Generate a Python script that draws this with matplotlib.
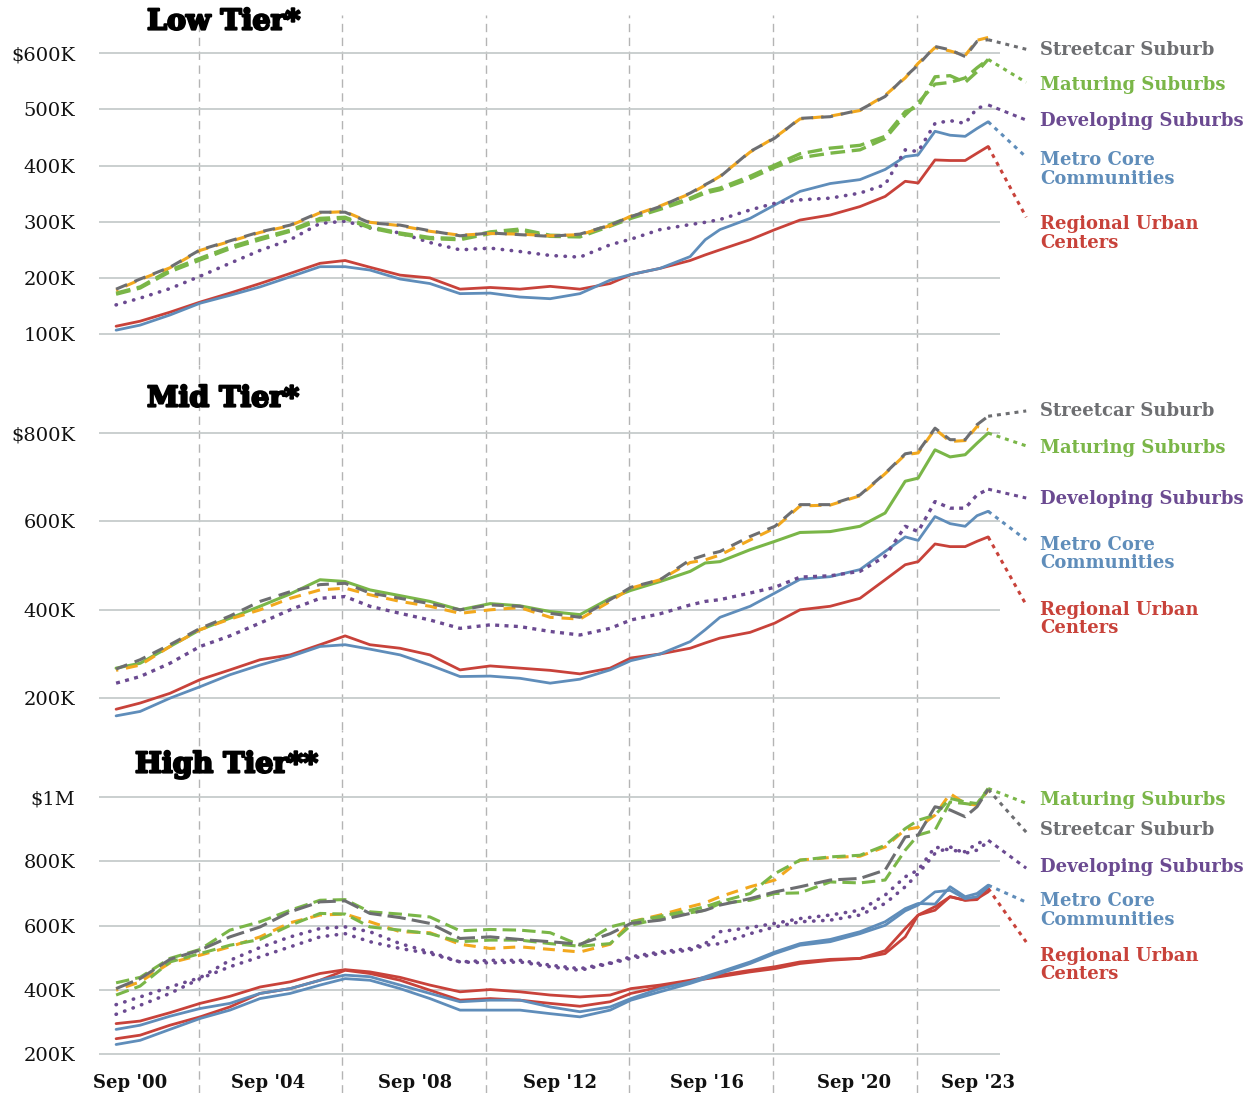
import matplotlib.pyplot as plt
import matplotlib.patheffects as pe

# sample dates (decimal years), shared by every series
DATES = [2000.70, 2001.37, 2002.20, 2003.04, 2003.87, 2004.71, 2005.55, 2006.38,
         2007.08, 2007.77, 2008.61, 2009.44, 2010.28, 2011.12, 2011.95, 2012.79,
         2013.62, 2014.46, 2015.04, 2015.85, 2016.69, 2017.11, 2017.52, 2018.36,
         2019.05, 2019.75, 2020.59, 2021.42, 2022.12, 2022.68, 2023.04, 2023.51,
         2023.93, 2024.35, 2024.68, 2024.99]

# ---- Low tier (thousands of $)
LOW_STREETCAR = [180, 198, 219, 250, 266, 282, 294, 317, 317, 298, 294, 284, 275, 280, 277, 274, 278, 294,
                 309, 327, 351, 366, 380, 425, 449, 484, 487, 499, 523, 558, 579, 612, 606, 594, 621, 624]
LOW_STREETCAR_ALT = [178, 197, 218, 249, 265, 281, 293, 316, 318, 299, 293, 283, 276, 279, 278, 275, 277, 293,
                     310, 328, 350, 365, 381, 424, 450, 483, 488, 498, 525, 556, 582, 610, 604, 596, 623, 628]
LOW_MATURING_A = [173, 184, 214, 235, 255, 271, 285, 306, 308, 291, 280, 272, 270, 282, 287, 276, 275, 295,
                  309, 324, 342, 354, 360, 381, 401, 421, 431, 436, 452, 496, 505, 558, 560, 548, 567, 589]
LOW_MATURING_B = [171, 182, 211, 232, 252, 268, 283, 303, 306, 289, 278, 270, 268, 279, 284, 274, 273, 292,
                  306, 322, 340, 351, 357, 377, 397, 414, 422, 428, 448, 490, 512, 545, 548, 556, 574, 589]
LOW_DEVELOPING = [152, 164, 181, 203, 226, 249, 268, 297, 301, 289, 280, 263, 250, 253, 247, 240, 237, 259,
                  269, 286, 295, 299, 304, 321, 333, 339, 342, 351, 366, 428, 425, 475, 480, 475, 502, 508]
LOW_METRO = [107, 116, 134, 155, 169, 184, 202, 220, 220, 214, 198, 190, 172, 173, 166, 163, 172, 196,
             206, 217, 238, 268, 286, 306, 330, 354, 368, 375, 393, 416, 419, 461, 454, 452, 466, 478]
LOW_REGIONAL = [114, 123, 139, 157, 173, 190, 208, 226, 231, 219, 205, 200, 180, 183, 180, 185, 180, 190,
                206, 217, 231, 241, 250, 268, 286, 303, 312, 327, 345, 372, 369, 410, 409, 409, 422, 434]

# ---- Mid tier
MID_STREETCAR = [266, 287, 321, 358, 386, 419, 441, 457, 460, 438, 426, 414, 400, 411, 408, 392, 383, 423,
                 451, 468, 513, 524, 532, 566, 589, 638, 638, 660, 709, 753, 758, 811, 785, 785, 819, 838]
MID_STREETCAR_ALT = [263, 275, 317, 355, 379, 400, 426, 445, 449, 434, 419, 408, 392, 400, 405, 383, 379, 419,
                     449, 468, 507, 513, 524, 558, 585, 635, 637, 658, 708, 751, 755, 809, 781, 783, 815, 808]
MID_MATURING = [268, 279, 317, 355, 381, 408, 436, 468, 464, 445, 432, 419, 400, 414, 409, 396, 389, 426,
                444, 464, 487, 506, 509, 536, 555, 575, 577, 589, 619, 691, 698, 762, 746, 751, 777, 800]
MID_DEVELOPING = [234, 249, 279, 317, 341, 370, 400, 426, 430, 408, 392, 377, 358, 366, 362, 351, 343, 358,
                  377, 391, 411, 419, 423, 438, 451, 474, 477, 487, 521, 589, 577, 645, 630, 630, 660, 673]
MID_METRO = [160, 170, 200, 226, 253, 275, 294, 317, 321, 311, 298, 275, 249, 250, 245, 234, 243, 264,
             285, 300, 328, 355, 383, 408, 438, 469, 475, 491, 532, 565, 557, 611, 595, 589, 613, 623]
MID_REGIONAL = [175, 189, 211, 242, 264, 287, 298, 321, 341, 321, 313, 298, 264, 273, 268, 263, 255, 268,
                291, 300, 313, 325, 336, 349, 370, 400, 408, 426, 468, 502, 509, 549, 543, 543, 555, 565]

# ---- High tier
HIGH_STREETCAR = [404, 435, 495, 524, 565, 596, 643, 674, 677, 638, 625, 607, 560, 565, 557, 550, 542, 575,
                  607, 617, 638, 648, 664, 684, 705, 721, 742, 747, 773, 876, 882, 970, 960, 939, 970, 1024]
HIGH_STREETCAR_ALT = [399, 425, 484, 508, 534, 565, 609, 633, 636, 612, 581, 578, 542, 529, 534, 526, 518, 542,
                      612, 633, 659, 671, 690, 721, 742, 804, 812, 816, 845, 899, 906, 944, 1011, 980, 975, 1022]
HIGH_MATURING_A = [422, 439, 498, 526, 586, 612, 648, 679, 681, 643, 636, 627, 584, 588, 586, 578, 539, 596,
                   612, 629, 648, 659, 674, 700, 762, 804, 814, 819, 850, 902, 928, 944, 996, 985, 980, 1027]
HIGH_MATURING_B = [384, 412, 487, 513, 539, 557, 601, 638, 636, 596, 586, 575, 550, 555, 555, 544, 536, 544,
                   601, 622, 640, 648, 669, 679, 700, 702, 736, 733, 742, 835, 882, 897, 985, 980, 975, 1027]
HIGH_DEVELOPING_A = [354, 378, 409, 438, 492, 532, 565, 591, 596, 581, 544, 518, 487, 492, 492, 477, 466, 484,
                     503, 518, 529, 544, 581, 594, 607, 622, 633, 648, 695, 752, 773, 845, 835, 830, 856, 866]
HIGH_DEVELOPING_B = [324, 352, 389, 435, 472, 503, 534, 565, 575, 550, 529, 513, 487, 484, 487, 472, 461, 482,
                     498, 513, 524, 539, 544, 575, 596, 612, 617, 633, 669, 721, 762, 825, 845, 825, 835, 861]
HIGH_METRO_A = [277, 290, 318, 342, 358, 389, 404, 430, 446, 441, 415, 389, 363, 368, 368, 347, 332, 347,
                373, 404, 425, 441, 456, 487, 518, 544, 557, 581, 612, 653, 669, 667, 721, 690, 700, 726]
HIGH_METRO_B = [230, 243, 277, 311, 337, 373, 389, 415, 435, 430, 404, 373, 337, 337, 337, 326, 316, 337,
                368, 394, 420, 435, 451, 482, 513, 539, 550, 575, 601, 646, 664, 705, 710, 684, 690, 721]
HIGH_REGIONAL_A = [295, 303, 329, 358, 380, 409, 425, 451, 463, 456, 439, 415, 394, 401, 394, 384, 378, 384,
                   404, 415, 430, 439, 446, 461, 472, 487, 495, 498, 522, 591, 633, 659, 690, 679, 681, 716]
HIGH_REGIONAL_B = [248, 259, 290, 316, 347, 389, 404, 430, 461, 451, 430, 399, 368, 373, 368, 358, 349, 363,
                   389, 409, 428, 434, 441, 456, 466, 482, 492, 498, 513, 565, 633, 648, 690, 679, 684, 705]

XTICK_LABELS = ["Sep '00", "Sep '04", "Sep '08", "Sep '12", "Sep '16", "Sep '20", "Sep '23"]
XTICK_POS = [2001.09, 2004.93, 2009.03, 2013.07, 2017.16, 2021.26, 2024.71]
VLINES = [2003, 2007, 2011, 2015, 2019, 2023]

GREY = "#6d6e71"
ORANGE = "#f2a81d"
GREEN = "#7ab648"
PURPLE = "#6b4a91"
BLUE = "#5f8dba"
RED = "#c8423a"

SERIF = "DejaVu Serif"
W, H = 1258, 1093
X0, X1 = 2000.224, 2025.32
X_CONN, X_LABEL = 2026.05, 2026.44

DASH = (0, (3.9, 2.6))
DASH_ALT = (3.2, (3.9, 2.6))
GDASH = (0, (4.4, 2.0))
DOT = (0, (0.1, 2.4))
CONN = (0, (1.3, 1.6))

fig = plt.figure(figsize=(W / 100, H / 100), dpi=100)


def panel(top, bottom, ylim, yticks, yticklabels, title, title_x, title_y):
    ax = fig.add_axes([99 / W, 1 - bottom / H, 901 / W, (bottom - top) / H])
    ax.set_xlim(X0, X1)
    ax.set_ylim(*ylim)
    for s in ax.spines.values():
        s.set_visible(False)
    ax.set_xticks([])
    ax.set_yticks(yticks)
    ax.set_yticklabels(yticklabels, fontfamily=SERIF, fontsize=14, color="#111111")
    ax.tick_params(axis="y", length=0, pad=17)
    ax.grid(axis="y", color="#c6cbcb", linewidth=1.3)
    ax.set_axisbelow(True)
    for v in VLINES:
        ax.axvline(v, color="#b4b4b4", lw=1.0, ls=(0, (6, 4)), zorder=0)
    t = fig.text(title_x / W, 1 - title_y / H, title, fontfamily=SERIF, fontweight="bold",
                 fontsize=20.5, ha="left", va="center")
    t.set_path_effects([pe.withStroke(linewidth=1.6, foreground="black")])
    return ax


def line(ax, y, color, ls="-", lw=2.0, z=3):
    ax.plot(DATES, y, color=color, ls=ls, lw=lw, zorder=z,
            dash_capstyle="round" if ls == DOT else "butt", solid_capstyle="round")


def labels(ax, items):
    for text, color, ly, src, cy in items:
        ax.plot([DATES[-1], X_CONN], [src[-1], cy], color=color, ls=CONN, lw=2.2,
                clip_on=False, zorder=2)
        ax.text(X_LABEL, ly, text, color=color, fontfamily=SERIF, fontweight="bold",
                fontsize=13, ha="left", va="center", linespacing=1.05, clip_on=False)


# ---------------- Low tier
ax = panel(15, 365, (45, 668), [100, 200, 300, 400, 500, 600],
           ["100K", "200K", "300K", "400K", "500K", "$600K"], "Low Tier*", 147, 22)
line(ax, LOW_REGIONAL, RED)
line(ax, LOW_METRO, BLUE)
line(ax, LOW_DEVELOPING, PURPLE, DOT, 2.6)
line(ax, LOW_MATURING_B, GREEN, GDASH, 2.4)
line(ax, LOW_MATURING_A, GREEN, GDASH, 2.4)
line(ax, LOW_STREETCAR_ALT, ORANGE, DASH_ALT, 2.2)
line(ax, LOW_STREETCAR, GREY, DASH, 2.2)
labels(ax, [
    ("Streetcar Suburb", GREY, 605, LOW_STREETCAR, 607),
    ("Maturing Suburbs", GREEN, 543, LOW_MATURING_A, 548),
    ("Developing Suburbs", PURPLE, 479, LOW_DEVELOPING, 481),
    ("Metro Core\nCommunities", BLUE, 393, LOW_METRO, 415),
    ("Regional Urban\nCenters", RED, 279, LOW_REGIONAL, 308),
])

# ---------------- Mid tier
ax = panel(365, 730, (128, 954), [200, 400, 600, 800],
           ["200K", "400K", "600K", "$800K"], "Mid Tier*", 147, 399)
line(ax, MID_REGIONAL, RED)
line(ax, MID_METRO, BLUE)
line(ax, MID_DEVELOPING, PURPLE, (0, (1.2, 1.6)), 2.4)
line(ax, MID_MATURING, GREEN, "-", 2.2)
line(ax, MID_STREETCAR_ALT, ORANGE, DASH_ALT, 2.2)
line(ax, MID_STREETCAR, GREY, DASH, 2.2)
labels(ax, [
    ("Streetcar Suburb", GREY, 850, MID_STREETCAR, 850),
    ("Maturing Suburbs", GREEN, 766, MID_MATURING, 771),
    ("Developing Suburbs", PURPLE, 651, MID_DEVELOPING, 653),
    ("Metro Core\nCommunities", BLUE, 526, MID_METRO, 558),
    ("Regional Urban\nCenters", RED, 379, MID_REGIONAL, 411),
])

# ---------------- High tier
ax = panel(730, 1093, (79, 1209), [200, 400, 600, 800, 1000],
           ["200K", "400K", "600K", "800K", "$1M"], "High Tier**", 135, 765)
line(ax, HIGH_REGIONAL_A, RED)
line(ax, HIGH_REGIONAL_B, RED)
line(ax, HIGH_METRO_A, BLUE)
line(ax, HIGH_METRO_B, BLUE)
line(ax, HIGH_DEVELOPING_A, PURPLE, DOT, 2.6)
line(ax, HIGH_DEVELOPING_B, PURPLE, DOT, 2.6)
line(ax, HIGH_STREETCAR_ALT, ORANGE, DASH_ALT, 2.2)
line(ax, HIGH_MATURING_B, GREEN, GDASH, 2.2)
line(ax, HIGH_MATURING_A, GREEN, GDASH, 2.2)
line(ax, HIGH_STREETCAR, GREY, (0, (6, 2)), 2.2)
labels(ax, [
    ("Maturing Suburbs", GREEN, 991, HIGH_MATURING_A, 981),
    ("Streetcar Suburb", GREY, 897, HIGH_STREETCAR, 891),
    ("Developing Suburbs", PURPLE, 782, HIGH_DEVELOPING_A, 779),
    ("Metro Core\nCommunities", BLUE, 648, HIGH_METRO_A, 673),
    ("Regional Urban\nCenters", RED, 477, HIGH_REGIONAL_A, 549),
])
for pos, lab in zip(XTICK_POS, XTICK_LABELS):
    ax.text(pos, 110, lab, fontfamily=SERIF, fontweight="bold", fontsize=13,
            ha="center", va="center", color="#111111")

fig.savefig("out.png", dpi=100, facecolor="white")
